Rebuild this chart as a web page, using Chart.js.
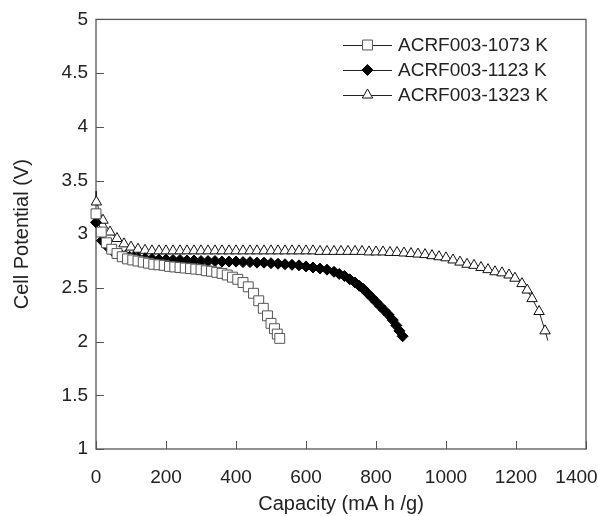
<!DOCTYPE html>
<html>
<head>
<meta charset="utf-8">
<script src="https://cdn.jsdelivr.net/npm/chart.js@4/dist/chart.umd.min.js"></script>
<style>
  html, body { margin: 0; padding: 0; background: #fff; }
  #wrap { width: 598px; height: 516px; }
</style>
</head>
<body>
<div id="wrap"><canvas id="c" width="598" height="516"></canvas></div>
<script>
// ---- data ----
const seriesNames = ['ACRF003-1073 K', 'ACRF003-1123 K', 'ACRF003-1323 K'];

const cap1073 = [0, 15, 30, 45, 60, 75, 90, 105, 120, 135, 150, 165, 180, 195, 210, 225, 240, 255, 270, 285, 300, 315, 330, 345, 360, 375, 390, 405, 420, 435, 450, 465, 478, 490, 500, 510, 518, 525];
const v1073   = [3.19, 3.02, 2.92, 2.86, 2.82, 2.79, 2.77, 2.76, 2.75, 2.74, 2.73, 2.72, 2.715, 2.71, 2.70, 2.695, 2.69, 2.685, 2.68, 2.675, 2.67, 2.66, 2.655, 2.645, 2.635, 2.62, 2.60, 2.58, 2.55, 2.51, 2.45, 2.38, 2.31, 2.24, 2.17, 2.12, 2.07, 2.03];

const cap1123 = [0, 17, 34, 48, 60, 72, 84, 96, 108, 120, 140, 160, 180, 200, 220, 240, 260, 280, 300, 320, 340, 360, 380, 400, 420, 440, 460, 480, 500, 520, 540, 560, 580, 600, 620, 640, 660, 680, 695, 710, 725, 740, 752, 764, 776, 788, 800, 812, 824, 836, 848, 858, 867, 876];
const v1123   = [3.11, 2.94, 2.88, 2.84, 2.82, 2.81, 2.80, 2.79, 2.785, 2.78, 2.775, 2.77, 2.765, 2.765, 2.76, 2.76, 2.755, 2.755, 2.75, 2.75, 2.75, 2.745, 2.745, 2.745, 2.74, 2.74, 2.735, 2.735, 2.73, 2.725, 2.72, 2.715, 2.71, 2.70, 2.69, 2.68, 2.67, 2.65, 2.63, 2.61, 2.58, 2.55, 2.52, 2.49, 2.45, 2.41, 2.37, 2.33, 2.29, 2.25, 2.20, 2.15, 2.10, 2.05];

const cap1323 = [0, 1, 20, 40, 60, 80, 100, 120, 140, 160, 180, 200, 220, 240, 260, 280, 300, 320, 340, 360, 380, 400, 420, 440, 460, 480, 500, 520, 540, 560, 580, 600, 620, 640, 660, 680, 700, 720, 740, 760, 780, 800, 820, 840, 860, 880, 900, 920, 940, 960, 980, 1000, 1020, 1040, 1060, 1080, 1100, 1120, 1140, 1160, 1180, 1197, 1217, 1232, 1246, 1266, 1283, 1291];
const v1323   = [3.40, 3.30, 3.13, 3.02, 2.96, 2.91, 2.88, 2.86, 2.85, 2.845, 2.845, 2.845, 2.845, 2.845, 2.845, 2.845, 2.845, 2.845, 2.845, 2.845, 2.845, 2.845, 2.845, 2.845, 2.845, 2.845, 2.845, 2.845, 2.845, 2.845, 2.845, 2.845, 2.845, 2.84, 2.84, 2.84, 2.84, 2.84, 2.84, 2.84, 2.835, 2.835, 2.835, 2.83, 2.83, 2.825, 2.82, 2.815, 2.81, 2.80, 2.79, 2.78, 2.76, 2.74, 2.72, 2.71, 2.69, 2.67, 2.65, 2.64, 2.62, 2.59, 2.54, 2.48, 2.40, 2.28, 2.10, 2.01];

const xTicks = [0, 200, 400, 600, 800, 1000, 1200, 1400];
const yTicks = [1, 1.5, 2, 2.5, 3, 3.5, 4, 4.5, 5];

// ---- helpers ----
function pts(xs, ys) { return xs.map((x, i) => ({ x: x, y: ys[i] })); }
const FONT = 'Liberation Sans, Arial, sans-serif';
const INK = '#222';

const styles = [
  { pointStyle: 'rect', radius: 7, bg: '#ffffff', border: '#555' },
  { pointStyle: 'rectRot', radius: 5.5, bg: '#000000', border: '#000' },
  { pointStyle: 'triangle', radius: 6, bg: '#ffffff', border: '#111' }
];

// first and last points of the 1323 K curve are line ends without a marker
const radii1323 = cap1323.map((_, i) => (i === 0 || i === cap1323.length - 1) ? 0 : styles[2].radius);

const datasets = [
  { label: seriesNames[0], data: pts(cap1073, v1073), s: styles[0] },
  { label: seriesNames[1], data: pts(cap1123, v1123), s: styles[1] },
  { label: seriesNames[2], data: pts(cap1323, v1323), s: styles[2], radii: radii1323 }
].map(d => ({
  label: d.label,
  data: d.data,
  borderColor: INK,
  borderWidth: 1,
  showLine: true,
  pointStyle: d.s.pointStyle,
  pointRadius: d.radii || d.s.radius,
  pointBackgroundColor: d.s.bg,
  pointBorderColor: d.s.border,
  pointBorderWidth: 1,
  tension: 0,
  clip: false
}));

const framePlugin = {
  id: 'frame',
  beforeDatasetsDraw(chart) {
    const { ctx, chartArea: a, scales } = chart;
    ctx.save();
    ctx.strokeStyle = '#555';
    ctx.lineWidth = 1.3;
    ctx.strokeRect(a.left, a.top, a.right - a.left, a.bottom - a.top);
    ctx.lineWidth = 1;
    ctx.beginPath();
    yTicks.forEach(v => {
      const y = Math.round(scales.y.getPixelForValue(v)) + 0.5;
      ctx.moveTo(a.left, y); ctx.lineTo(a.left + 8, y);
    });
    xTicks.forEach(v => {
      const x = Math.round(scales.x.getPixelForValue(v)) + 0.5;
      ctx.moveTo(x, a.bottom); ctx.lineTo(x, a.bottom - 8);
    });
    ctx.stroke();
    ctx.restore();
  }
};

const legendPlugin = {
  id: 'lineLegend',
  afterDraw(chart) {
    const { ctx } = chart;
    const x0 = 343, x1 = 392, tx = 398;
    const rows = [45, 70, 95];
    ctx.save();
    chart.data.datasets.forEach((ds, i) => {
      const y = rows[i];
      ctx.strokeStyle = INK; ctx.lineWidth = 1;
      ctx.beginPath(); ctx.moveTo(x0, y + 0.5); ctx.lineTo(x1, y + 0.5); ctx.stroke();
      ctx.fillStyle = ds.pointBackgroundColor;
      ctx.strokeStyle = ds.pointBorderColor;
      Chart.helpers.drawPoint(ctx, { pointStyle: ds.pointStyle, radius: styles[i].radius, rotation: 0, borderWidth: 1 }, (x0 + x1) / 2, y);
      ctx.fillStyle = INK;
      ctx.font = '19px ' + FONT;
      ctx.textBaseline = 'middle';
      ctx.textAlign = 'left';
      ctx.fillText(ds.label, tx, y + 1);
    });
    ctx.restore();
  }
};

new Chart(document.getElementById('c'), {
  type: 'scatter',
  data: { datasets: datasets },
  plugins: [framePlugin, legendPlugin],
  options: {
    responsive: false,
    animation: false,
    events: [],
    layout: { padding: { left: 0, top: 18, right: 12, bottom: 0 } },
    plugins: { legend: { display: false }, tooltip: { enabled: false } },
    scales: {
      x: {
        type: 'linear', min: 0, max: 1400,
        afterBuildTicks: s => { s.ticks = xTicks.map(v => ({ value: v })); },
        afterFit: s => { s.height = 67; s.paddingLeft = 0; s.paddingRight = 0; },
        grid: { display: false, drawTicks: false },
        border: { display: false },
        ticks: {
          color: INK, padding: 17, maxRotation: 0, autoSkip: false,
          font: { family: FONT, size: 19 },
          callback: v => v === 1400 ? '1400\u2002\u2002' : String(v)
        },
        title: { display: true, text: 'Capacity (mA h /g)', color: INK, font: { family: FONT, size: 20 }, padding: { top: 0, bottom: 0 } }
      },
      y: {
        type: 'linear', min: 1, max: 5,
        afterBuildTicks: s => { s.ticks = yTicks.map(v => ({ value: v })); },
        afterFit: s => { s.width = 96; },
        grid: { display: false, drawTicks: false },
        border: { display: false },
        ticks: {
          color: INK, padding: 8,
          font: { family: FONT, size: 19 },
          callback: v => String(v)
        },
        title: { display: true, text: 'Cell Potential (V)', color: INK, font: { family: FONT, size: 20 }, padding: { top: 10, bottom: 0 } }
      }
    }
  }
});
</script>
</body>
</html>
